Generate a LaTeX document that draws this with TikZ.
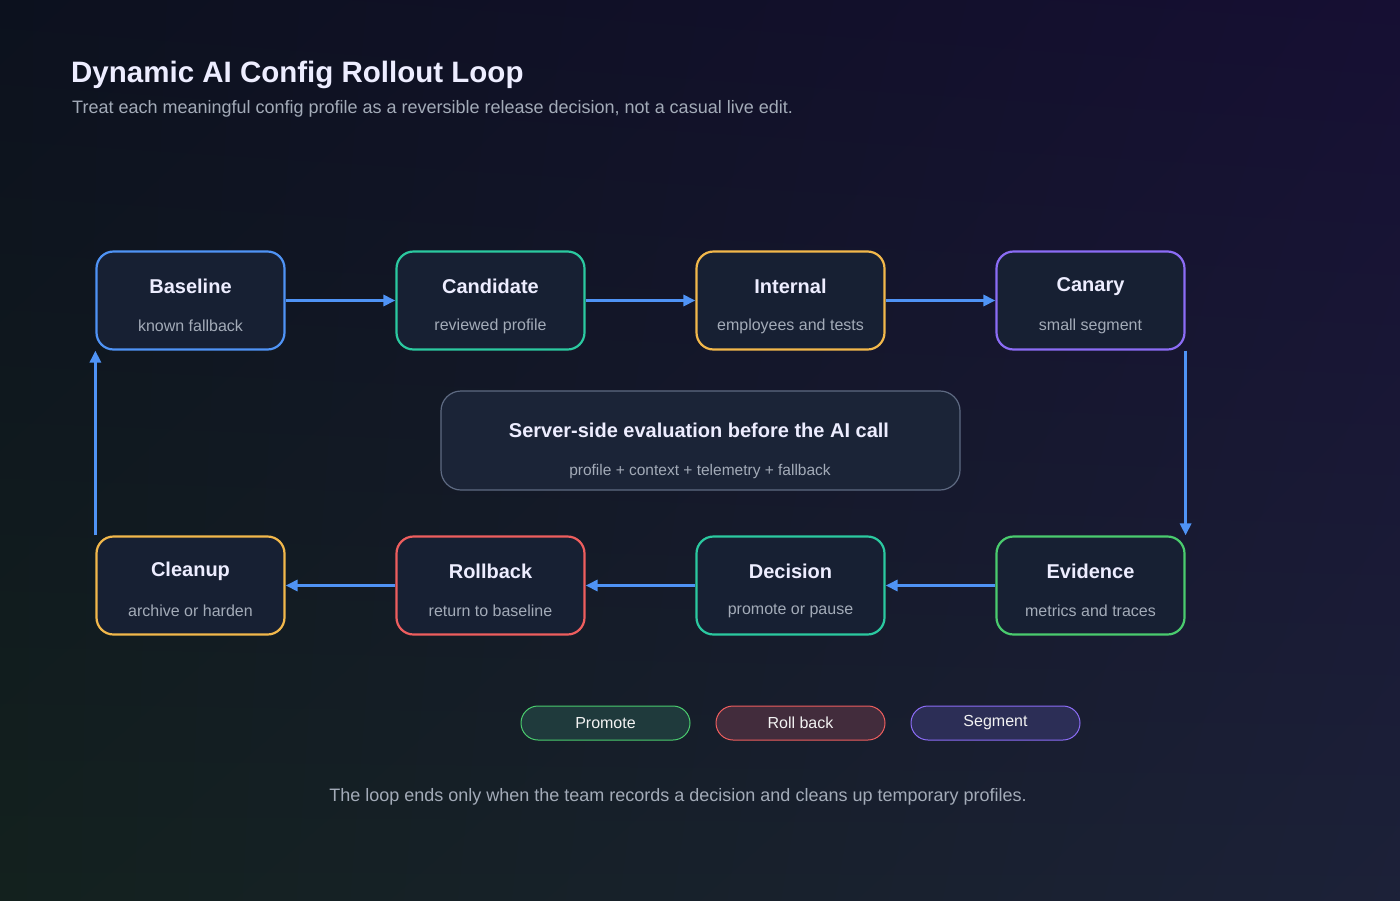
\documentclass[tikz,border=0pt]{standalone}
\usepackage{fontspec}
\setmainfont{Liberation Sans}
\usetikzlibrary{arrows.meta,shadings}
\definecolor{bgA}{HTML}{0C111E}
\definecolor{bgB}{HTML}{160F33}
\definecolor{bgC}{HTML}{13211E}
\definecolor{bgD}{HTML}{1C2138}
\definecolor{fillbox}{HTML}{172033}
\definecolor{cblue}{HTML}{4F93F5}
\definecolor{cteal}{HTML}{2BC9A0}
\definecolor{cyel}{HTML}{F2B84B}
\definecolor{cpurp}{HTML}{8B6CF5}
\definecolor{cgreen}{HTML}{4ACB6E}
\definecolor{cred}{HTML}{EE5E5E}
\definecolor{subtxt}{HTML}{A3ABB8}
\definecolor{midb}{HTML}{5E6A82}
\definecolor{midf}{HTML}{1B2437}
\begin{document}
\begin{tikzpicture}[x=1pt,y=-1pt,
 box/.style={draw=#1,line width=2.2pt,fill=fillbox,rounded corners=17pt,minimum width=188pt,minimum height=98pt,inner sep=0pt},
 ttl/.style={text=white!93!blue,font=\bfseries\fontsize{20}{24}\selectfont},
 sub/.style={text=subtxt,font=\fontsize{16}{19}\selectfont},
 arr/.style={draw=cblue,line width=3pt,-{Triangle[length=12pt,width=11pt]}},
 pill/.style={draw=#1,line width=1pt,rounded corners=17pt,minimum width=169pt,minimum height=34pt,inner sep=0pt,text=white!90!gray,font=\fontsize{16}{19}\selectfont}]
\shade[upper left=bgA,upper right=bgB,lower left=bgC,lower right=bgD] (0,0) rectangle (1400,900);
\useasboundingbox (0,0) rectangle (1400,900);
\node[anchor=base west,inner sep=0pt,text=white!93!blue,font=\bfseries\fontsize{29.5}{34}\selectfont] (title) at (71,82) {Dynamic AI Config Rollout Loop};
\node[anchor=base west,inner sep=0pt,text=subtxt,font=\fontsize{18}{21}\selectfont] (subt) at (72,113) {Treat each meaningful config profile as a reversible release decision, not a casual live edit.};
\foreach \n/\x/\y/\c/\t/\s in {base/190.5/300.5/cblue/Baseline/known fallback,cand/490.5/300.5/cteal/Candidate/reviewed profile,int/790.5/300.5/cyel/Internal/employees and tests,can/1090.5/300.5/cpurp/Canary/small segment,evi/1090.5/585.5/cgreen/Evidence/metrics and traces,dec/790.5/585.5/cteal/Decision/promote or pause,rol/490.5/585.5/cred/Rollback/return to baseline,cle/190.5/585.5/cyel/Cleanup/archive or harden}{
 \node[box=\c] (\n) at (\x,\y) {};
 \node[ttl] (\n t) at (\x,\y-14) {\t};
 \node[sub] (\n s) at (\x,\y+25.5) {\s};
}
\node[draw=midb,line width=1.2pt,fill=midf,rounded corners=20pt,minimum width=519pt,minimum height=99pt] (mid) at (700.5,440.5) {};
\node[ttl] (midt) at (699,430) {Server-side evaluation before the AI call};
\node[sub,font=\fontsize{15.5}{19}\selectfont] (mids) at (700,471) {profile + context + telemetry + fallback};
\draw[arr] (base.east) -- (cand.west);
\draw[arr] (cand.east) -- (int.west);
\draw[arr] (int.east) -- (can.west);
\draw[arr] (can.south east) -- (evi.north east);
\draw[arr] (evi.west) -- (dec.east);
\draw[arr] (dec.west) -- (rol.east);
\draw[arr] (rol.west) -- (cle.east);
\draw[arr] (cle.north west) -- (base.south west);
\node[pill=cgreen,fill=cgreen!15!fillbox] (p1) at (605.5,723) {Promote};
\node[pill=cred,fill=cred!20!fillbox] (p2) at (800.5,723) {Roll back};
\node[pill=cpurp,fill=cpurp!18!fillbox] (p3) at (995.5,723) {Segment};
\node[text=subtxt,font=\fontsize{18}{21}\selectfont] (foot) at (678,797) {The loop ends only when the team records a decision and cleans up temporary profiles.};
\end{tikzpicture}
\end{document}
